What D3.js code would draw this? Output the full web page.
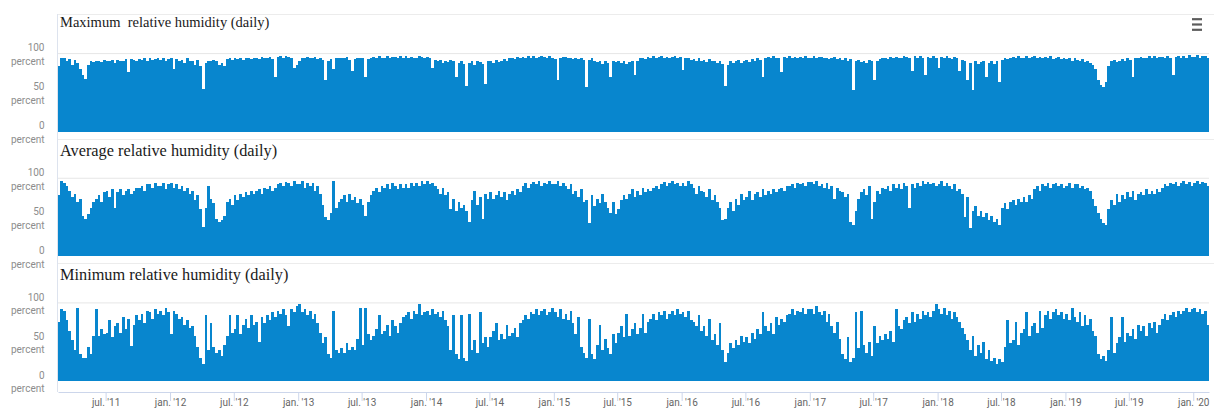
<!DOCTYPE html>
<html>
<head>
<meta charset="utf-8">
<script src="https://cdn.jsdelivr.net/npm/d3@7/dist/d3.min.js"></script>
<style>
  html, body { margin: 0; padding: 0; background: #ffffff; }
  svg { display: block; }
</style>
</head>
<body>
<svg id="chart" width="1214" height="412"></svg>
<script>
// Relative humidity, four readings per month, from mid-February 2011 to mid-February 2020.
const startYear = 2011;
const startMonth = 1;      // zero-based: February
const startQuarter = 2;    // the series begins halfway through February

const maxHumidity = [
  // 2011 (from 15 Feb)
  84, 94,
  95, 90, 93, 86,  92, 88, 80, 72,  68, 86, 90, 89,  90, 91, 89, 92,  91, 90, 92, 88,
  92, 91, 90, 93,  76, 93, 92, 90,  93, 92, 94, 91,  94, 92, 93, 95,  92, 94, 90, 93,
  // 2012
  94, 80, 93, 91,  92, 88, 94, 90,  91, 86, 92, 84,  54, 88, 91, 90,  92, 90, 86, 88,  84, 93, 94, 92,
  95, 93, 94, 92,  94, 95, 93, 94,  95, 93, 96, 94,  94, 96, 93, 70,  96, 97, 95, 97,  96, 94, 82, 86,
  // 2013
  90, 95, 94, 96,  95, 94, 96, 93,  94, 92, 66, 90,  93, 80, 94, 95,  95, 94, 96, 92,  78, 93, 95, 94,
  94, 70, 93, 95,  96, 95, 97, 95,  95, 97, 94, 96,  96, 94, 97, 95,  97, 95, 96, 94,  95, 97, 96, 94,
  // 2014
  96, 94, 81, 92,  90, 92, 88, 91,  89, 92, 90, 70,  88, 91, 87, 59,  88, 90, 86, 91,  89, 87, 61, 90,
  91, 88, 92, 89,  90, 93, 91, 94,  95, 93, 96, 94,  96, 95, 97, 94,  97, 95, 96, 97,  96, 94, 97, 95,
  // 2015
  93, 66, 95, 96,  96, 94, 95, 93,  95, 93, 94, 92,  57, 92, 94, 90,  89, 91, 87, 90,  88, 70, 90, 89,
  91, 88, 90, 87,  89, 91, 72, 90,  94, 95, 93, 96,  95, 97, 94, 96,  97, 95, 96, 94,  96, 97, 95, 96,
  // 2016
  79, 95, 94, 92,  93, 90, 94, 91,  92, 89, 93, 90,  91, 88, 90, 87,  59, 86, 90, 88,  90, 92, 88, 91,
  92, 89, 93, 90,  94, 92, 70, 95,  96, 94, 97, 95,  95, 76, 96, 94,  97, 95, 96, 94,  96, 94, 97, 95,
  // 2017
  95, 97, 94, 96,  96, 94, 95, 93,  94, 96, 93, 95,  92, 94, 90, 93,  53, 90, 92, 89,  91, 88, 92, 90,
  66, 91, 93, 94,  95, 93, 96, 94,  96, 94, 95, 97,  96, 94, 78, 97,  95, 97, 94, 72,  96, 94, 97, 95,
  // 2018
  82, 96, 94, 97,  95, 93, 96, 94,  78, 92, 90, 66,  88, 53, 90, 87,  89, 91, 70, 88,  90, 87, 91, 64,
  92, 94, 93, 95,  96, 94, 97, 95,  95, 97, 94, 96,  97, 95, 96, 94,  96, 94, 97, 93,  94, 96, 93, 95,
  // 2019
  93, 95, 91, 94,  92, 90, 93, 89,  90, 88, 86, 80,  66, 60, 57, 64,  84, 90, 92, 89,  91, 93, 90, 94,
  92, 70, 94, 95,  96, 94, 95, 97,  95, 97, 94, 96,  96, 94, 97, 95,  72, 96, 97, 95,  97, 95, 98, 96,
  // 2020 (to 15 Feb)
  96, 98, 95, 97,  97, 95
];

const avgHumidity = [
  // 2011 (from 15 Feb)
  78, 96,
  94, 90, 84, 76,  80, 70, 74, 52,  48, 54, 62, 70,  74, 78, 70, 82,  84, 76, 86, 62,
  82, 86, 78, 84,  86, 80, 84, 88,  88, 90, 84, 92,  92, 88, 94, 90,  90, 94, 86, 92,
  // 2012
  94, 88, 92, 86,  90, 84, 88, 80,  84, 72, 78, 60,  38, 62, 90, 74,  68, 48, 44, 46,  52, 70, 74, 66,
  78, 72, 80, 76,  82, 78, 84, 80,  84, 86, 80, 88,  86, 90, 84, 88,  92, 94, 90, 95,  94, 90, 96, 92,
  // 2013
  92, 96, 88, 94,  90, 94, 84, 90,  80, 66, 50, 46,  56, 97, 62, 70,  74, 78, 70, 80,  72, 76, 68, 74,
  66, 52, 70, 78,  84, 88, 82, 90,  88, 92, 86, 94,  90, 86, 92, 88,  92, 88, 94, 90,  94, 90, 96, 92,
  // 2014
  96, 92, 94, 90,  86, 80, 88, 78,  82, 60, 74, 58,  70, 62, 66, 58,  44, 72, 84, 66,  76, 48, 80, 74,
  82, 74, 78, 84,  76, 82, 72, 80,  84, 78, 86, 82,  90, 94, 88, 92,  95, 92, 96, 90,  94, 92, 96, 93,
  // 2015
  92, 96, 90, 94,  90, 86, 92, 80,  84, 76, 86, 70,  72, 42, 78, 64,  74, 68, 80, 70,  62, 56, 70, 54,
  60, 72, 78, 74,  80, 86, 76, 84,  78, 88, 82, 86,  84, 88, 90, 86,  92, 95, 90, 94,  96, 92, 94, 90,
  // 2016
  94, 90, 96, 92,  88, 80, 90, 84,  82, 76, 86, 72,  78, 70, 62, 46,  48, 62, 70, 58,  74, 66, 80, 72,
  76, 84, 72, 80,  82, 76, 86, 78,  84, 80, 86, 82,  86, 88, 84, 90,  90, 92, 88, 94,  92, 94, 90, 95,
  // 2017
  95, 92, 96, 90,  92, 88, 94, 86,  90, 74, 88, 84,  82, 76, 80, 44,  40, 58, 74, 82,  86, 78, 90, 48,
  70, 84, 80, 88,  86, 90, 84, 92,  88, 92, 86, 94,  90, 62, 92, 88,  94, 90, 96, 92,  95, 92, 94, 90,
  // 2018
  92, 96, 90, 94,  90, 86, 92, 84,  86, 80, 50, 76,  36, 58, 64, 52,  58, 50, 56, 46,  52, 44, 48, 40,
  62, 68, 60, 70,  72, 66, 74, 70,  76, 70, 78, 74,  86, 90, 84, 92,  90, 94, 88, 92,  94, 90, 92, 88,
  // 2019
  90, 94, 88, 92,  92, 88, 90, 86,  88, 84, 74, 64,  56, 48, 42, 40,  60, 72, 66, 80,  70, 78, 74, 82,
  76, 84, 72, 80,  82, 78, 86, 80,  84, 80, 86, 82,  88, 92, 90, 94,  92, 95, 90, 94,  96, 92, 95, 90,
  // 2020 (to 15 Feb)
  94, 96, 92, 95,  94, 90
];

const minHumidity = [
  // 2011 (from 15 Feb)
  76, 92,
  90, 78, 64, 52,  40, 94, 34, 30,  30, 44, 35, 58,  92, 58, 66, 60,  62, 78, 56, 70,
  74, 62, 82, 66,  80, 45, 72, 84,  78, 86, 74, 90,  88, 80, 92, 86,  90, 84, 94, 88,
  // 2012
  60, 90, 86, 80,  82, 72, 78, 68,  70, 58, 44, 30,  22, 84, 40, 74,  44, 36, 40, 32,  46, 58, 84, 62,
  66, 84, 60, 72,  80, 68, 84, 72,  76, 50, 82, 74,  84, 78, 88, 82,  90, 86, 92, 84,  70, 92, 88, 96,
  // 2013
  98, 88, 92, 84,  90, 80, 86, 74,  62, 48, 56, 34,  30, 90, 40, 36,  42, 36, 48, 40,  44, 40, 54, 94,
  46, 94, 60, 52,  58, 66, 84, 60,  64, 72, 58, 78,  70, 62, 74, 82,  84, 88, 80, 90,  86, 98, 84, 88,
  // 2014
  90, 84, 92, 86,  88, 82, 90, 78,  70, 40, 84, 34,  28, 84, 30, 26,  86, 40, 52, 36,  88, 48, 56, 44,
  56, 64, 74, 52,  60, 54, 72, 58,  62, 68, 56, 74,  78, 84, 80, 88,  86, 92, 84, 90,  92, 84, 88, 94,
  // 2015
  88, 82, 92, 80,  86, 78, 90, 74,  60, 82, 44, 36,  30, 80, 34, 28,  46, 72, 40, 54,  42, 34, 60, 48,
  62, 70, 56, 86,  58, 66, 74, 60,  68, 86, 62, 76,  80, 86, 78, 88,  84, 90, 80, 86,  90, 84, 92, 86,
  // 2016
  88, 82, 90, 78,  76, 70, 84, 64,  70, 58, 80, 52,  60, 46, 74, 40,  24, 36, 48, 42,  52, 46, 58, 50,
  56, 48, 62, 54,  66, 60, 88, 70,  64, 74, 60, 82,  72, 80, 76, 84,  86, 92, 84, 90,  88, 94, 86, 92,
  // 2017
  92, 86, 96, 88,  84, 90, 76, 86,  70, 62, 76, 54,  34, 28, 56, 24,  30, 88, 42, 90,  46, 36, 50, 32,
  70, 48, 58, 52,  60, 54, 64, 50,  92, 70, 66, 78,  82, 74, 88, 76,  86, 80, 90, 84,  88, 82, 90, 98,
  // 2018
  92, 86, 94, 84,  90, 80, 88, 82,  76, 68, 60, 52,  40, 58, 32, 46,  36, 50, 28, 40,  26, 30, 22, 28,
  24, 44, 78, 48,  52, 76, 46, 62,  66, 88, 58, 70,  74, 62, 90, 68,  84, 90, 80, 88,  92, 84, 88, 80,
  // 2019
  86, 78, 94, 82,  76, 88, 70, 84,  72, 80, 64, 58,  34, 28, 32, 26,  40, 82, 36, 48,  56, 82, 50, 62,
  58, 66, 54, 72,  64, 70, 58, 74,  68, 76, 62, 72,  80, 86, 78, 84,  88, 82, 90, 86,  90, 94, 88, 92,
  // 2020 (to 15 Feb)
  94, 88, 92, 86,  90, 72
];

const panelTitles = [
  "Maximum  relative humidity (daily)",
  "Average relative humidity (daily)",
  "Minimum relative humidity (daily)"
];
const yTickValues = [0, 50, 100];
const yTickUnit = "percent";
const shortMonthsNl = ["jan.", "feb.", "mrt.", "apr.", "mei", "jun.",
                       "jul.", "aug.", "sep.", "okt.", "nov.", "dec."];

// ---- layout ----
const W = 1214, H = 412;
const plotLeft = 58, plotRight = 1209;
const panelTop0 = 14, panelStep = 124.65;
const gridOffset = 39.6, baseOffset = 117.6;   // y of 100 % and 0 % relative to a panel's top
const axisY = 392;
const barColor = "#0886ce";
const titleSizes = [14.5, 16.3, 16.3];
const titleBaselines = [12.7, 17.2, 16.7];

const svg = d3.select("#chart");

// Each reading covers a quarter of its month.
function sampleTime(index) {
  const k = startQuarter + index;
  const m = Math.floor(k / 4), q = k % 4;
  const a = Date.UTC(startYear, startMonth + m, 1);
  const b = Date.UTC(startYear, startMonth + m + 1, 1);
  return new Date(a + (b - a) * q / 4);
}
function toSamples(values) {
  return values.map((v, i) => ({ t0: sampleTime(i), t1: sampleTime(i + 1), v }));
}

const x = d3.scaleUtc()
  .domain([new Date(Date.UTC(2011, 1, 15)), new Date(Date.UTC(2020, 1, 15))])
  .range([plotLeft, plotRight]);

const locale = d3.timeFormatLocale({
  dateTime: "%a %e %B %Y %X", date: "%d-%m-%Y", time: "%H:%M:%S",
  periods: ["AM", "PM"],
  days: ["zondag", "maandag", "dinsdag", "woensdag", "donderdag", "vrijdag", "zaterdag"],
  shortDays: ["zo", "ma", "di", "wo", "do", "vr", "za"],
  months: ["januari", "februari", "maart", "april", "mei", "juni", "juli",
           "augustus", "september", "oktober", "november", "december"],
  shortMonths: shortMonthsNl
});
const tickFormat = locale.utcFormat("%b '%y");

svg.append("defs").append("clipPath").attr("id", "plotClip")
  .append("rect").attr("x", plotLeft).attr("y", 0)
  .attr("width", plotRight - plotLeft).attr("height", H);

const series = [maxHumidity, avgHumidity, minHumidity];

series.forEach((values, p) => {
  const top = panelTop0 + p * panelStep;
  const y = d3.scaleLinear().domain([0, 100]).range([top + baseOffset, top + gridOffset]);
  const g = svg.append("g");

  // panel frame line on top
  g.append("line")
    .attr("x1", plotLeft - 1).attr("x2", W)
    .attr("y1", Math.round(top) + 0.5).attr("y2", Math.round(top) + 0.5)
    .attr("stroke", "#ececec").attr("stroke-width", 1);

  // gridline at 100 %
  g.append("line")
    .attr("x1", plotLeft).attr("x2", plotRight)
    .attr("y1", y(100)).attr("y2", y(100))
    .attr("stroke", "#e6e6e6").attr("stroke-width", 1);

  // daily bars
  g.append("g").attr("clip-path", "url(#plotClip)")
    .attr("shape-rendering", "crispEdges")
    .selectAll("rect")
    .data(toSamples(values))
    .join("rect")
    .attr("x", d => x(d.t0))
    .attr("width", d => x(d.t1) - x(d.t0))
    .attr("y", d => y(d.v))
    .attr("height", d => y(0) - y(d.v))
    .attr("fill", barColor);

  // y-axis labels: value on one line, unit below it
  const labels = g.append("g")
    .attr("font-family", "Roboto, 'Open Sans', sans-serif")
    .attr("font-size", 10)
    .attr("fill", "#8d8d8d")
    .attr("text-anchor", "end");
  yTickValues.forEach(v => {
    labels.append("text").attr("x", 44.5).attr("y", y(v) - 2.3).text(v);
    labels.append("text").attr("x", 44.5).attr("y", y(v) + 11.5).text(yTickUnit);
  });

  // panel title
  g.append("text")
    .attr("x", 60)
    .attr("y", top + titleBaselines[p])
    .attr("font-family", "'Liberation Serif', 'Times New Roman', serif")
    .attr("font-size", titleSizes[p])
    .attr("fill", "#1a1a1a")
    .style("white-space", "pre")
    .text(panelTitles[p]);
});

// left edge of the stacked plots
svg.append("line")
  .attr("x1", plotLeft - 0.5).attr("x2", plotLeft - 0.5)
  .attr("y1", panelTop0).attr("y2", axisY)
  .attr("stroke", "#dde3ee").attr("stroke-width", 1);

// shared time axis
const xAxis = d3.axisBottom(x)
  .ticks(d3.utcMonth.every(6))
  .tickFormat(tickFormat)
  .tickSize(9)
  .tickSizeOuter(0);

const axisG = svg.append("g")
  .attr("transform", `translate(0,${axisY})`)
  .call(xAxis);
axisG.select(".domain").attr("stroke", "#ccd6eb");
axisG.selectAll(".tick line").attr("stroke", "#ccd6eb");
axisG.selectAll(".tick text")
  .attr("font-family", "Roboto, 'Open Sans', sans-serif")
  .attr("font-size", 10)
  .attr("fill", "#666666")
  .attr("dy", "0.05em")
  .attr("y", 13);

// export menu symbol
const menu = svg.append("g").attr("stroke", "#5c5c5c").attr("stroke-width", 2.2);
[19.2, 24.5, 29.8].forEach(yy => {
  menu.append("line").attr("x1", 1192).attr("x2", 1202).attr("y1", yy).attr("y2", yy);
});
</script>
</body>
</html>
